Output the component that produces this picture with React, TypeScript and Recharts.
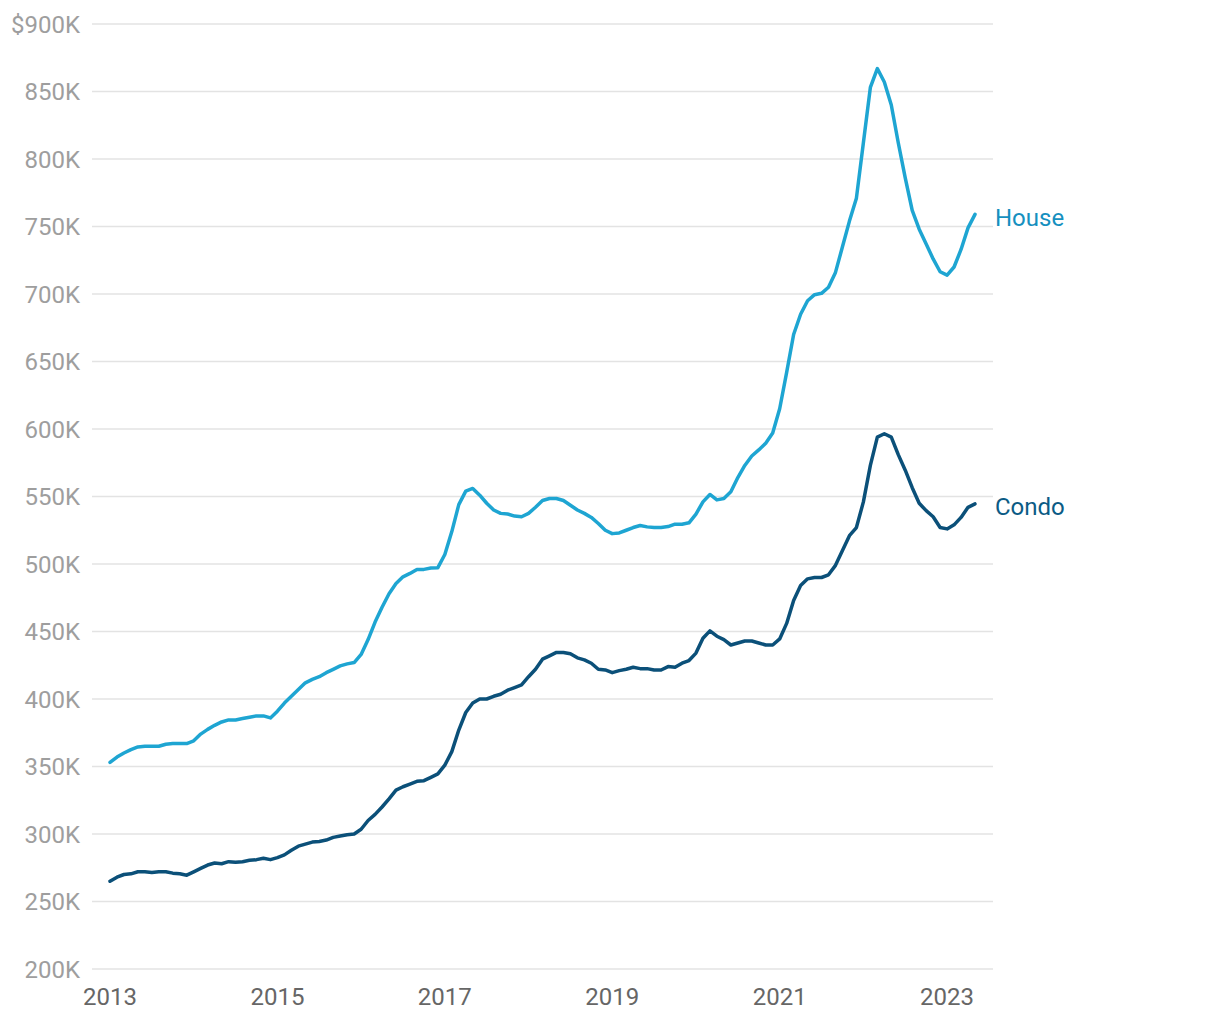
import React from "react";
import { LineChart, Line, XAxis, YAxis, CartesianGrid } from "recharts";

// monthly median prices in $K, Jan 2013 .. May 2023
const startYear = 2013;

const houseValues = [
  353, 357, 360, 362.5, 364.5, 365, 365, 365, 366.5, 367, 367, 367,
  369, 374, 377.5, 380.5, 383, 384.5, 384.5, 385.5, 386.5, 387.5, 387.5, 386,
  391, 397, 402, 407, 412, 414.5, 416.5, 419.5, 422, 424.5, 426, 427,
  433, 444, 457, 468, 478, 485.5, 490.5, 493, 496, 496, 497, 497.3,
  507, 524, 544, 554, 556, 551, 545, 540, 537.5, 537, 535.5, 535,
  537.5, 542, 547, 548.5, 548.5, 547, 543.5, 540, 537.5, 534.5, 530, 525,
  522.5, 523, 525, 527, 528.5, 527.5, 527, 527, 527.7, 529.5, 529.5, 530.5,
  537, 546, 551.5, 547.5, 548.5, 553.5, 564, 573, 580, 584.5, 589.5, 597,
  615, 642, 670, 685, 695, 699.5, 700.5, 705, 716, 735, 754, 771,
  812, 853, 867, 857, 840, 812, 786, 762, 748, 737, 726, 716.5,
  714, 720, 733, 749, 759,
];

const condoValues = [
  265, 268, 270, 270.5, 272, 272, 271.5, 272, 272, 271, 270.5, 269.5,
  272, 274.5, 277, 278.5, 278, 279.5, 279, 279.5, 280.5, 281, 282, 281,
  282.5, 284.5, 288, 291, 292.5, 294, 294.5, 295.5, 297.5, 298.5, 299.5, 300,
  303.5, 310, 314.5, 320, 326, 332.5, 335, 337, 339, 339.5, 342, 344.5,
  351, 361, 377, 390, 397, 400, 400, 402, 403.5, 406.5, 408.5, 410.5,
  416.5, 422, 429.5, 432, 434.5, 434.5, 433.5, 430.5, 429, 426.5, 422, 421.5,
  419.5, 421, 422, 423.5, 422.5, 422.5, 421.5, 421.5, 424, 423.5, 426.5, 428.5,
  434, 445, 450.5, 446.5, 444, 440, 441.5, 443, 443, 441.5, 440, 440,
  444.5, 456, 473, 484, 489, 490, 490, 492, 499, 510, 521, 527,
  546, 573, 594, 596.5, 594, 581, 569.5, 556.5, 545, 539.5, 535, 527,
  526, 529, 534.5, 542, 544.5,
];

const yTicks = [200, 250, 300, 350, 400, 450, 500, 550, 600, 650, 700, 750, 800, 850, 900];
const xTicks = [2013, 2015, 2017, 2019, 2021, 2023];

const HOUSE_COLOR = "#1ea5d2";
const CONDO_COLOR = "#0b5079";

const data = houseValues.map((h, i) => ({
  t: startYear + i / 12,
  house: h,
  condo: condoValues[i],
}));

const lastIndex = data.length - 1;

const YTick = (props: any) => {
  const { x, y, payload } = props;
  const v = payload.value;
  const label = v === 900 ? "$900K" : `${v}K`;
  return (
    <text x={x + 6} y={y} dy={8.5} textAnchor="end" fill="#9e9e9e" fontSize={24} fontFamily="Roboto">
      {label}
    </text>
  );
};

const XTick = (props: any) => {
  const { x, y, payload } = props;
  return (
    <text x={x} y={y} dy={28} textAnchor="middle" fill="#666" fontSize={24} fontFamily="Roboto">
      {payload.value}
    </text>
  );
};

const endLabel = (name: string, color: string) => (props: any) => {
  const { x, y, index } = props;
  if (index !== lastIndex) return null;
  return (
    <text x={x + 20} y={y + 3} dy={8.5} fill={color} fontSize={24} fontFamily="Roboto">
      {name}
    </text>
  );
};

export default function App() {
  return (
    <div style={{ width: 1204, height: 1004 }}>
      <LineChart
        width={1204}
        height={1004}
        data={data}
        margin={{ top: 16, right: 219, bottom: 0, left: 0 }}
      >
        <CartesianGrid vertical={false} stroke="#e3e3e3" strokeWidth={1.5} />
        <XAxis
          dataKey="t"
          type="number"
          domain={["dataMin", "dataMax"]}
          ticks={xTicks}
          padding={{ left: 18, right: 18 }}
          axisLine={false}
          tickLine={false}
          tick={<XTick />}
          height={43}
          interval={0}
        />
        <YAxis
          domain={[200, 900]}
          ticks={yTicks}
          axisLine={false}
          tickLine={false}
          tick={<YTick />}
          width={84}
          tickMargin={12}
          interval={0}
        />
        <Line
          type="linear"
          dataKey="house"
          stroke={HOUSE_COLOR}
          strokeWidth={3.5}
          strokeLinejoin="round"
          strokeLinecap="round"
          dot={false}
          isAnimationActive={false}
          label={endLabel("House", "#1690bf")}
        />
        <Line
          type="linear"
          dataKey="condo"
          stroke={CONDO_COLOR}
          strokeWidth={3.5}
          strokeLinejoin="round"
          strokeLinecap="round"
          dot={false}
          isAnimationActive={false}
          label={endLabel("Condo", "#0b5b85")}
        />
      </LineChart>
    </div>
  );
}
